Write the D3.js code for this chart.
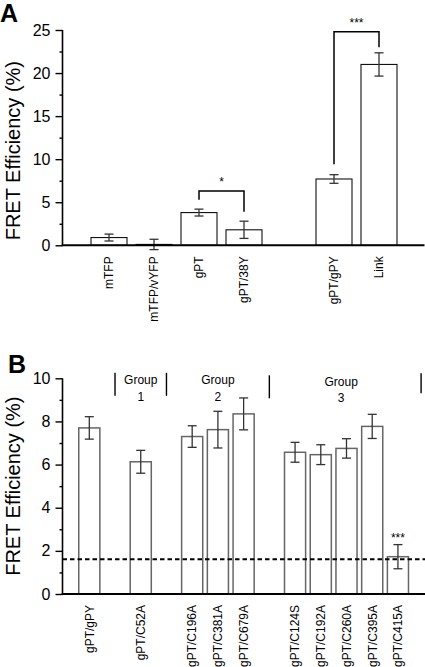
<!DOCTYPE html>
<html><head><meta charset="utf-8">
<script src="https://cdn.jsdelivr.net/npm/d3@7"></script>
<style>
html,body{margin:0;padding:0;background:#fff;}
svg{display:block;font-family:"Liberation Sans",Arial,sans-serif;}
</style></head>
<body>
<svg id="chart" width="425" height="667"></svg>
<script>
// ---------- Panel A data ----------
const catsA = ["mTFP","mTFP/vYFP","gPT","gPT/38Y","gPT/gPY","Link"];
const valsA = [0.9, 0.1, 3.8, 1.8, 7.7, 21.0];
const errsA = [0.4, 0.6, 0.4, 1.0, 0.5, 1.35];
const slotsA = ["mTFP","mTFP/vYFP","gPT","gPT/38Y","_gap","gPT/gPY","Link"];
const ticksA = [0,5,10,15,20,25];
const minorA = [2.5,7.5,12.5,17.5,22.5];
const sigA = [
  {from:"gPT", to:"gPT/38Y", top:6.3, leftEnd:5.3, rightEnd:3.9, label:"*"},
  {from:"gPT/gPY", to:"Link", top:24.8, leftEnd:9.4, rightEnd:23.0, label:"***"}
];

// ---------- Panel B data ----------
const catsB = ["gPT/gPY","gPT/C52A","gPT/C196A","gPT/C381A","gPT/C679A",
               "gPT/C124S","gPT/C192A","gPT/C260A","gPT/C395A","gPT/C415A"];
const valsB = [7.7, 6.13, 7.3, 7.62, 8.35, 6.57, 6.46, 6.75, 7.77, 1.73];
const errsB = [0.52, 0.53, 0.5, 0.85, 0.74, 0.46, 0.46, 0.45, 0.56, 0.56];
const slotsB = ["gPT/gPY","_g1","gPT/C52A","_g2","gPT/C196A","gPT/C381A","gPT/C679A","_g3",
                "gPT/C124S","gPT/C192A","gPT/C260A","gPT/C395A","gPT/C415A"];
const ticksB = [0,2,4,6,8,10];
const minorB = [1,3,5,7,9];
const baselineB = 1.61;
const separatorsB = [1, 3, 7, 12.9];          // in slot-index units
const groupNamesB = [["Group","1"],["Group","2"],["Group","3"]];
const sigB = [{cat:"gPT/C415A", label:"***"}];

const svg = d3.select("#chart");
const axisX = 62.5;

function panel(opts){
  const g = svg.append("g");
  const x = d3.scaleBand().domain(opts.slots).range(opts.xr).paddingInner(opts.pin).paddingOuter(opts.pout);
  const y = d3.scaleLinear().domain(opts.yd).range(opts.yr);
  const data = opts.cats.map((c,i)=>({c, v:opts.vals[i], e:opts.errs[i]}));

  // y axis major
  const ya = g.append("g").attr("transform",`translate(${axisX},0)`)
    .call(d3.axisLeft(y).tickValues(opts.ticks).tickSize(7).tickPadding(5).tickFormat(d3.format("d")));
  ya.select(".domain").attr("stroke","#000").attr("stroke-width",1.6).attr("d",`M0,${y(opts.yd[1])}V${y(0)}`);
  ya.selectAll(".tick line").attr("stroke","#000").attr("stroke-width",1.4);
  ya.selectAll(".tick text").attr("font-size",16).attr("fill","#000")
    .attr("font-family","'Liberation Sans',Arial,sans-serif");
  const ym = g.append("g").attr("transform",`translate(${axisX},0)`)
    .call(d3.axisLeft(y).tickValues(opts.minor).tickSize(3).tickFormat(""));
  ym.select(".domain").remove();
  ym.selectAll(".tick line").attr("stroke","#000").attr("stroke-width",1.4);

  // bars
  g.selectAll("rect.bar").data(data).join("rect")
    .attr("x",d=>x(d.c)).attr("width",x.bandwidth())
    .attr("y",d=>y(Math.max(d.v,0))).attr("height",d=>Math.max(0,y(0)-y(d.v)))
    .attr("fill","#fff").attr("stroke",opts.barStroke).attr("stroke-width",opts.barSW);

  // error bars
  const cap = 4.5;
  const eg = g.append("g").attr("stroke","#333").attr("stroke-width",1.3).attr("fill","none");
  data.forEach(d=>{
    const cx = x(d.c)+x.bandwidth()/2;
    eg.append("line").attr("x1",cx).attr("x2",cx).attr("y1",y(d.v+d.e)).attr("y2",y(d.v-d.e));
    eg.append("line").attr("x1",cx-cap).attr("x2",cx+cap).attr("y1",y(d.v+d.e)).attr("y2",y(d.v+d.e));
    eg.append("line").attr("x1",cx-cap).attr("x2",cx+cap).attr("y1",y(d.v-d.e)).attr("y2",y(d.v-d.e));
  });

  // x axis line
  g.append("line").attr("x1",axisX-0.8).attr("x2",opts.xEnd).attr("y1",y(0)).attr("y2",y(0))
    .attr("stroke","#000").attr("stroke-width",2);

  // x labels
  g.selectAll("text.xl").data(data).join("text")
    .attr("transform",d=>`translate(${x(d.c)+x.bandwidth()/2+4.3},${y(0)+11}) rotate(-90)`)
    .attr("text-anchor","end").attr("font-size",12).attr("fill","#000").text(d=>d.c);

  // y title
  const ymid = (y(0)+y(opts.yd[1]))/2 + opts.titleShift;
  g.append("text").attr("transform",`translate(19.5,${ymid}) rotate(-90)`)
    .attr("text-anchor","middle").attr("font-size",20).attr("fill","#000").text("FRET Efficiency (%)");

  // panel letter
  g.append("text").attr("x",opts.letterX).attr("y",opts.letterY).attr("font-size",25)
    .attr("font-weight","bold").attr("fill","#000").text(opts.letter);
  return {g,x,y};
}

// ---------- Panel A ----------
const A = panel({slots:slotsA, cats:catsA, vals:valsA, errs:errsA,
  xr:[86.5,401.5], pin:0.2, pout:0.1, yd:[0,25], yr:[245.3,30],
  ticks:ticksA, minor:minorA, barStroke:"#111", barSW:1.1, xEnd:424.5,
  titleShift:13, letter:"A", letterX:0, letterY:22});
{
  const {g,x,y} = A;
  sigA.forEach(s=>{
    const x1 = x(s.from)+x.bandwidth()/2, x2 = x(s.to)+x.bandwidth()/2;
    g.append("path").attr("d",`M${x1},${y(s.leftEnd)}V${y(s.top)}H${x2}V${y(s.rightEnd)}`)
      .attr("fill","none").attr("stroke","#000").attr("stroke-width",1.5);
    g.append("text").attr("x",(x1+x2)/2).attr("y",y(s.top)-5).attr("text-anchor","middle")
      .attr("font-size",12).attr("fill","#000").text(s.label);
  });
}

// ---------- Panel B ----------
const B = panel({slots:slotsB, cats:catsB, vals:valsB, errs:errsB,
  xr:[76.44,410.8], pin:0.18, pout:0.09, yd:[0,10], yr:[594,378.3],
  ticks:ticksB, minor:minorB, barStroke:"#666", barSW:1.5, xEnd:425,
  titleShift:0, letter:"B", letterX:8, letterY:373});
{
  const {g,x,y} = B;
  const slotX = d3.scaleLinear().domain([0, slotsB.length-1])
    .range([x(slotsB[0])+x.bandwidth()/2, x(slotsB[slotsB.length-1])+x.bandwidth()/2]);
  // baseline dashed line
  g.append("line").attr("x1",axisX).attr("x2",425).attr("y1",y(baselineB)).attr("y2",y(baselineB))
    .attr("stroke","#000").attr("stroke-width",2).attr("stroke-dasharray","4.5,3");
  // group separators
  separatorsB.forEach((s,i)=>{
    const off = i===2 ? 2.5 : (i===3 ? 0.5 : 0);
    g.append("line").attr("x1",slotX(s)).attr("x2",slotX(s))
      .attr("y1",y(10)-5.5+off).attr("y2",y(10)+17.5+off - (i===3?3:0))
      .attr("stroke","#000").attr("stroke-width",1.4);
  });
  groupNamesB.forEach((nm,i)=>{
    const cx = (slotX(separatorsB[i])+slotX(separatorsB[i+1]))/2 - (i===2?4:0);
    const dy = i===2 ? 1.5 : 0;
    g.append("text").attr("x",cx).attr("y",y(10)+6+dy).attr("text-anchor","middle")
      .attr("font-size",12).attr("fill","#000").text(nm[0]);
    g.append("text").attr("x",cx).attr("y",y(10)+22.5+dy).attr("text-anchor","middle")
      .attr("font-size",12).attr("fill","#000").text(nm[1]);
  });
  sigB.forEach(s=>{
    const i = catsB.indexOf(s.cat);
    g.append("text").attr("x",x(s.cat)+x.bandwidth()/2).attr("y",y(valsB[i]+errsB[i])-3)
      .attr("text-anchor","middle").attr("font-size",12).attr("fill","#000").text(s.label);
  });
}
</script>
</body></html>
